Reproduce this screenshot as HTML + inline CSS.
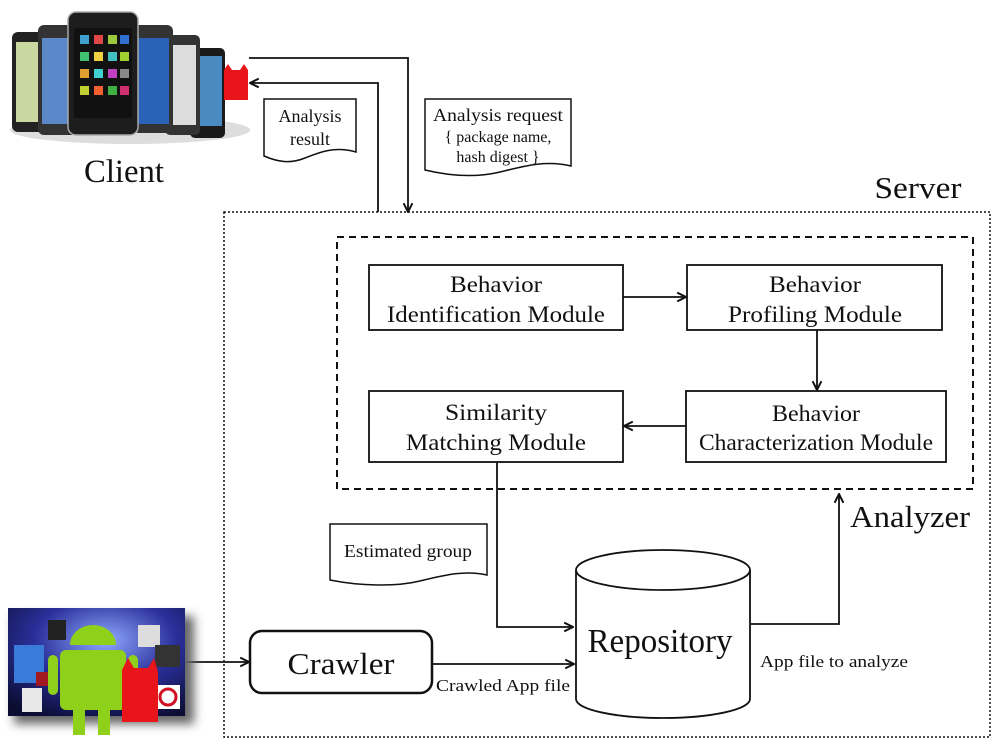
<!DOCTYPE html>
<html><head><meta charset="utf-8"><style>
html,body{margin:0;padding:0;background:#fff;}
svg{display:block;}
text{font-family:"Liberation Serif",serif;fill:#111;}
</style></head><body>
<svg width="1000" height="750" viewBox="0 0 1000 750" xmlns="http://www.w3.org/2000/svg">
<defs>
<marker id="a" viewBox="0 0 10 10" refX="9" refY="5" markerWidth="11" markerHeight="11" orient="auto" markerUnits="userSpaceOnUse">
<path d="M1,1 L9,5 L1,9" fill="none" stroke="#111" stroke-width="1.8"/></marker>
<radialGradient id="sp" cx="0.55" cy="0.3" r="0.8"><stop offset="0" stop-color="#8fa8ff"/><stop offset="0.5" stop-color="#2a2f9a"/><stop offset="1" stop-color="#0a0c30"/></radialGradient>
<filter id="sh"><feGaussianBlur stdDeviation="5"/></filter>
</defs>

<g>
<ellipse cx="130" cy="130" rx="120" ry="14" fill="#ddd"/>
<rect x="12" y="32" width="40" height="100" rx="6" fill="#222"/><rect x="16" y="42" width="32" height="80" fill="#c8d8a0"/>
<rect x="38" y="25" width="45" height="110" rx="6" fill="#333"/><rect x="42" y="38" width="37" height="86" fill="#5a88c8"/>
<rect x="190" y="48" width="35" height="90" rx="5" fill="#1a1a1a"/><rect x="193" y="56" width="29" height="70" fill="#4a8ac0"/>
<rect x="165" y="35" width="35" height="100" rx="5" fill="#333"/><rect x="169" y="45" width="27" height="80" fill="#ddd"/>
<rect x="133" y="25" width="40" height="108" rx="6" fill="#333"/><rect x="137" y="38" width="32" height="86" fill="#2a62b8"/>
<rect x="68" y="12" width="70" height="123" rx="8" fill="#1d1d1d" stroke="#aaa" stroke-width="1.5"/><rect x="74" y="28" width="58" height="90" fill="#111"/>
<g fill="#e0a030"><rect x="80" y="35" width="9" height="9" fill="#3fa0d0"/><rect x="94" y="35" width="9" height="9" fill="#e04848"/><rect x="108" y="35" width="9" height="9" fill="#9ac83a"/><rect x="120" y="35" width="9" height="9" fill="#3070d0"/>
<rect x="80" y="52" width="9" height="9" fill="#40c070"/><rect x="94" y="52" width="9" height="9" fill="#f0d040"/><rect x="108" y="52" width="9" height="9" fill="#40c0c0"/><rect x="120" y="52" width="9" height="9" fill="#a0d030"/>
<rect x="80" y="69" width="9" height="9"/><rect x="94" y="69" width="9" height="9" fill="#40d0d0"/><rect x="108" y="69" width="9" height="9" fill="#c040c0"/><rect x="120" y="69" width="9" height="9" fill="#888"/>
<rect x="80" y="86" width="9" height="9" fill="#c0d030"/><rect x="94" y="86" width="9" height="9" fill="#f06030"/><rect x="108" y="86" width="9" height="9" fill="#40b040"/><rect x="120" y="86" width="9" height="9" fill="#d03070"/></g>
<path d="M224,70 l4,-6 l4,6 l8,0 l4,-6 l4,6 l0,30 l-24,0 z" fill="#e8161a"/>
</g>
<text x="124" y="182" font-size="33" text-anchor="middle" textLength="80" lengthAdjust="spacingAndGlyphs">Client</text>

<polyline points="249,58 408,58 408,212" fill="none" stroke="#111" stroke-width="1.8" marker-end="url(#a)"/>
<polyline points="378,212 378,83 250,83" fill="none" stroke="#111" stroke-width="1.8" marker-end="url(#a)"/>

<path d="M264,99 H356 V152 C335,146 320,152 305,158 C290,164 278,162 264,156 Z" fill="#fff" stroke="#111" stroke-width="1.5"/>
<text x="310" y="122" font-size="18" text-anchor="middle">Analysis</text>
<text x="310" y="145" font-size="18" text-anchor="middle">result</text>
<path d="M425,99 H571 V166 C545,160 525,166 500,172 C475,178 450,176 425,170 Z" fill="#fff" stroke="#111" stroke-width="1.5"/>
<text x="498" y="121" font-size="18" text-anchor="middle" textLength="130" lengthAdjust="spacingAndGlyphs">Analysis request</text>
<text x="498" y="142" font-size="16" text-anchor="middle">{ package name,</text>
<text x="498" y="162" font-size="16" text-anchor="middle">hash digest }</text>

<rect x="224" y="212" width="766" height="525" fill="none" stroke="#111" stroke-width="1.5" stroke-dasharray="2,2"/>
<text x="918" y="198" font-size="31" text-anchor="middle" textLength="87" lengthAdjust="spacingAndGlyphs">Server</text>
<rect x="337" y="237" width="636" height="252" fill="none" stroke="#111" stroke-width="2" stroke-dasharray="7,5"/>
<text x="910" y="527" font-size="31" text-anchor="middle" textLength="120" lengthAdjust="spacingAndGlyphs">Analyzer</text>

<g fill="#fff" stroke="#111" stroke-width="1.8">
<rect x="369" y="265" width="254" height="65"/>
<rect x="687" y="265" width="255" height="65"/>
<rect x="369" y="391" width="254" height="71"/>
<rect x="686" y="391" width="260" height="71"/>
</g>
<g font-size="23" text-anchor="middle">
<text x="496" y="292" textLength="92" lengthAdjust="spacingAndGlyphs">Behavior</text><text x="496" y="322" textLength="218" lengthAdjust="spacingAndGlyphs">Identification Module</text>
<text x="815" y="292" textLength="92" lengthAdjust="spacingAndGlyphs">Behavior</text><text x="815" y="322" textLength="174" lengthAdjust="spacingAndGlyphs">Profiling Module</text>
<text x="496" y="420" textLength="102" lengthAdjust="spacingAndGlyphs">Similarity</text><text x="496" y="450" textLength="180" lengthAdjust="spacingAndGlyphs">Matching Module</text>
<text x="816" y="421" textLength="88" lengthAdjust="spacingAndGlyphs">Behavior</text><text x="816" y="450" textLength="234" lengthAdjust="spacingAndGlyphs">Characterization Module</text>
</g>
<g fill="none" stroke="#111" stroke-width="1.8">
<line x1="623" y1="297" x2="686" y2="297" marker-end="url(#a)"/>
<line x1="817" y1="330" x2="817" y2="390" marker-end="url(#a)"/>
<line x1="686" y1="426" x2="624" y2="426" marker-end="url(#a)"/>
<polyline points="497,462 497,627 573,627" marker-end="url(#a)"/>
<polyline points="750,624 839,624 839,494" marker-end="url(#a)"/>
<line x1="432" y1="664" x2="574" y2="664" marker-end="url(#a)"/>
<line x1="185" y1="662" x2="249" y2="662" marker-end="url(#a)"/>
</g>

<path d="M330,524 H487 V575 C465,570 445,575 420,581 C395,587 360,586 330,580 Z" fill="#fff" stroke="#111" stroke-width="1.5"/>
<text x="408" y="557" font-size="18" text-anchor="middle" textLength="128" lengthAdjust="spacingAndGlyphs">Estimated group</text>

<path d="M576,570 V699 A87,19 0 0 0 750,699 V570" fill="#fff" stroke="#111" stroke-width="1.8"/>
<ellipse cx="663" cy="570" rx="87" ry="20" fill="#fff" stroke="#111" stroke-width="1.8"/>
<text x="660" y="652" font-size="34" text-anchor="middle" textLength="145" lengthAdjust="spacingAndGlyphs">Repository</text>
<text x="834" y="667" font-size="17" text-anchor="middle" textLength="148" lengthAdjust="spacingAndGlyphs">App file to analyze</text>

<rect x="250" y="631" width="182" height="62" rx="12" fill="#fff" stroke="#111" stroke-width="2.5"/>
<text x="341" y="674" font-size="31" text-anchor="middle" textLength="107" lengthAdjust="spacingAndGlyphs">Crawler</text>
<text x="503" y="691" font-size="17" text-anchor="middle" textLength="134" lengthAdjust="spacingAndGlyphs">Crawled App file</text>

<rect x="14" y="616" width="180" height="108" fill="#666" filter="url(#sh)"/>
<rect x="8" y="608" width="177" height="108" fill="url(#sp)"/>
<rect x="14" y="645" width="30" height="38" fill="#3a7ad8"/>
<rect x="48" y="620" width="18" height="20" fill="#222"/>
<rect x="138" y="625" width="22" height="22" fill="#ddd"/>
<rect x="155" y="645" width="25" height="22" fill="#333"/>
<rect x="156" y="685" width="24" height="24" fill="#fff"/><circle cx="168" cy="697" r="8" fill="none" stroke="#d01020" stroke-width="3"/>
<rect x="22" y="688" width="20" height="24" fill="#e8e8e8"/>
<rect x="36" y="672" width="18" height="14" fill="#a01820"/>
<path d="M70,645 a23,20 0 0 1 46,0 z" fill="#8fd11a"/>
<rect x="60" y="650" width="66" height="60" rx="6" fill="#8fd11a"/>
<rect x="48" y="655" width="10" height="40" rx="5" fill="#8fd11a"/>
<rect x="128" y="655" width="10" height="40" rx="5" fill="#8fd11a"/>
<rect x="73" y="705" width="12" height="30" fill="#8fd11a"/><rect x="98" y="705" width="12" height="30" fill="#8fd11a"/>
<path d="M122,670 l6,-12 l6,10 l14,0 l6,-10 l4,14 l0,50 l-36,0 z" fill="#e8161a"/>
</svg>
</body></html>
